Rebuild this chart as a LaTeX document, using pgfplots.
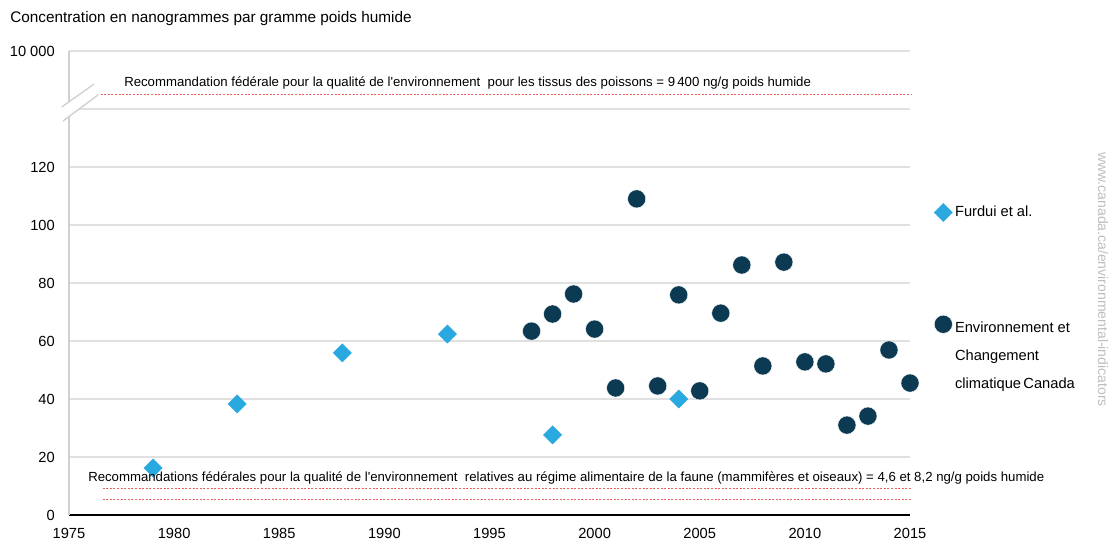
\documentclass[border=0pt]{standalone}
\usepackage{pgfplots}
\pgfplotsset{compat=1.18}
\usepackage{fontspec}
\setmainfont{Liberation Sans}
\definecolor{furdui}{HTML}{2AA8E0}
\definecolor{eccc}{HTML}{0C3A52}
\definecolor{gridc}{HTML}{E0E0E0}
\definecolor{axisc}{HTML}{D0D0D0}
\definecolor{guide}{HTML}{EC5F5F}
\definecolor{wm}{HTML}{BDBDBD}
\begin{document}
\begin{tikzpicture}
\path[use as bounding box] (0,0) rectangle (835.5pt,405.75pt);
% lower axis
\begin{axis}[
  at={(51.75pt,19.5pt)}, anchor=south west,
  scale only axis, width=630.75pt, height=304.5pt,
  xmin=1975, xmax=2015, ymin=0, ymax=140,
  clip=false,
  axis x line*=bottom, axis y line*=left,
  x axis line style={black, line width=2.2pt, -},
  y axis line style={axisc, line width=0.8pt, -},
  xtick={1975,1980,...,2015},
  xticklabels={1975,1980,1985,1990,1995,2000,2005,2010,2015},
  ytick={0,20,...,140},
  yticklabels={0,20,40,60,80,100,120,{}},
  major tick length=0pt,
  ymajorgrids, grid style={gridc, line width=1.2pt},
  /pgf/number format/assume math mode=true,
  ticklabel style={font=\fontsize{11}{13}\selectfont, inner sep=0pt},
  yticklabel style={anchor=east, xshift=-10.5pt},
  xticklabel style={anchor=north, yshift=-10pt},
  legend cell align=left,
  legend style={at={(1.0285,0.768)}, anchor=north west, draw=none, fill=none,
    inner sep=0pt, font=\fontsize{11}{13}\selectfont, row sep=67pt,
    /tikz/every even column/.append style={column sep=3pt}},
  legend image code/.code={\draw[#1] plot coordinates {(0pt,0pt)};},
]
\addplot[draw=guide, mark=none, line width=0.9pt, dash pattern=on 1.5pt off 1.2pt, forget plot]
  coordinates {(1976.6,9.2) (2015.1,9.2)};
\addplot[draw=guide, mark=none, line width=0.9pt, dash pattern=on 1.5pt off 1.2pt, forget plot]
  coordinates {(1976.6,5.4) (2015.1,5.4)};
\addplot[only marks, mark=square*, mark size=4.8pt, color=furdui,
  mark options={rotate=45, fill=furdui, draw=none}] table {
x y
1979 16.2
1983 38.3
1988 55.9
1993 62.4
1998 27.6
2004 40.0
};
\addlegendentry{Furdui et al.}
\addplot[only marks, mark=*, mark size=6.8pt, color=eccc,
  mark options={fill=eccc, draw=white, line width=0.3pt}] table {
x y
1997 63.4
1998 69.3
1999 76.2
2000 64.1
2001 43.8
2002 109.0
2003 44.5
2004 75.9
2005 42.8
2006 69.6
2007 86.2
2008 51.4
2009 87.2
2010 52.8
2011 52.1
2012 31.0
2013 34.1
2014 56.9
2015 45.5
};
\addlegendentry{{\renewcommand{\arraystretch}{1.6}\begin{tabular}[t]{@{}l@{}}Environnement et\\Changement\\climatique\,Canada\end{tabular}}}
\end{axis}
% upper axis
\begin{axis}[
  at={(51.75pt,324pt)}, anchor=south west,
  scale only axis, width=630.75pt, height=43.5pt,
  xmin=1975, xmax=2015, ymin=9200, ymax=10000,
  clip=false, scaled y ticks=false,
  axis x line=none, axis y line*=left,
  y axis line style={axisc, line width=0.8pt, -},
  xtick=\empty,
  ytick={10000}, yticklabels={10 000},
  major tick length=0pt,
  ymajorgrids, grid style={gridc, line width=1.2pt},
  ticklabel style={font=\fontsize{11}{13}\selectfont, inner sep=0pt},
  yticklabel style={anchor=east, xshift=-10.5pt},
]
\addplot[draw=guide, mark=none, line width=0.9pt, dash pattern=on 1.5pt off 1.2pt]
  coordinates {(1976.5,9400) (2015.05,9400)};
\end{axis}
% axis break
\fill[white] (46.3pt,325.5pt) -- (70.5pt,342.75pt) -- (73.5pt,334.5pt) -- (47.25pt,315pt) -- cycle;
\draw[axisc, line width=1pt] (46.3pt,325.5pt) -- (70.5pt,342.75pt);
\draw[axisc, line width=1pt] (47.25pt,315pt) -- (73.5pt,334.5pt);
% texts
\node[anchor=west, inner sep=0pt, font=\fontsize{11.5}{13}\selectfont] at (7.5pt,391.5pt)
  {Concentration en nanogrammes par gramme poids humide};
\node[anchor=west, inner sep=0pt, font=\fontsize{9.9}{12}\selectfont] at (93pt,343.5pt)
  {Recommandation fédérale pour la qualité de l\textquotesingle environnement\ \ pour les tissus des poissons = 9\,400 ng/g poids humide};
\node[anchor=west, inner sep=0pt, font=\fontsize{9.9}{12}\selectfont] at (66pt,47.25pt)
  {Recommandations fédérales pour la qualité de l\textquotesingle environnement\ \ relatives au régime alimentaire de la faune (mammifères et oiseaux) = 4,6 et 8,2 ng/g poids humide};
\node[anchor=west, rotate=-90, inner sep=0pt, text=wm, font=\fontsize{10.5}{12}\selectfont] at (827.25pt,291.75pt)
  {www.canada.ca/environmental-indicators};
\end{tikzpicture}
\end{document}
